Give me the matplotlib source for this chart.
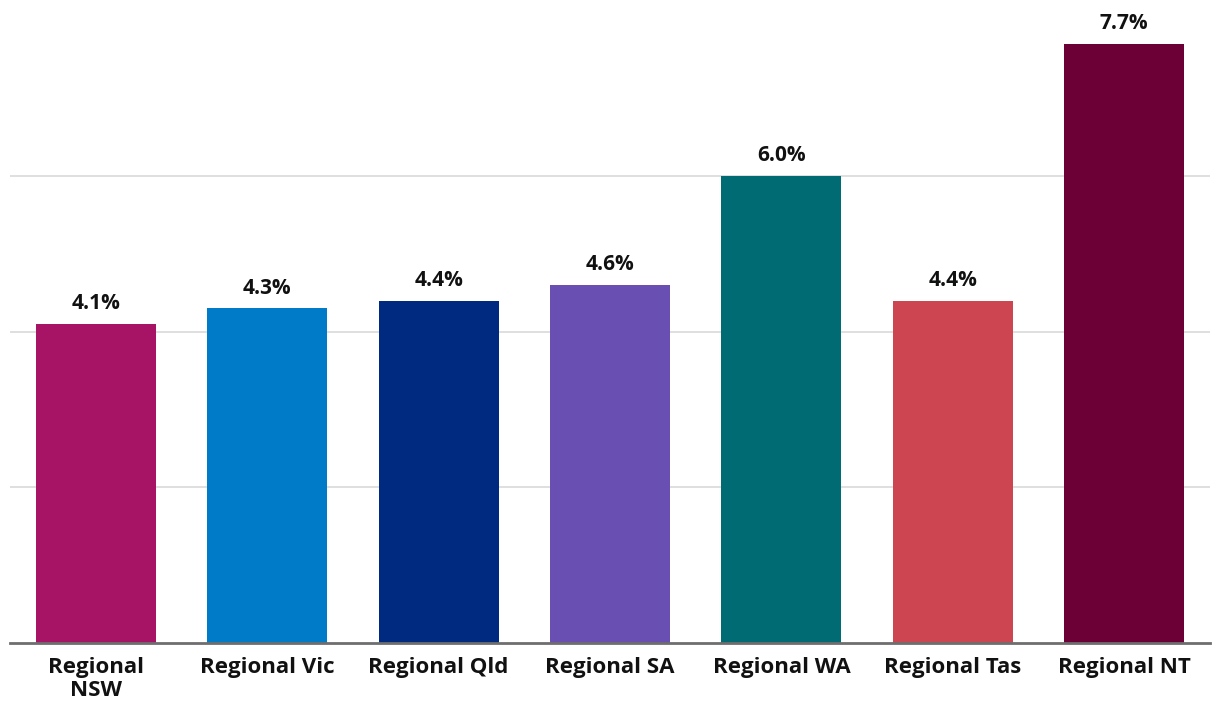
import matplotlib
matplotlib.use("Agg")
import matplotlib.pyplot as plt

# values
regions = ["Regional\nNSW", "Regional Vic", "Regional Qld", "Regional SA",
           "Regional WA", "Regional Tas", "Regional NT"]
rates = [4.1, 4.3, 4.4, 4.6, 6.0, 4.4, 7.7]
colours = ["#A71465", "#007BC7", "#002A7F", "#6A4FB2",
           "#006B73", "#CE4552", "#6C0036"]
grid_ticks = [2, 4, 6]

plt.rcParams["font.family"] = ["Open Sans", "DejaVu Sans"]

fig = plt.figure(figsize=(12.2, 7.18), dpi=100)
ax = fig.add_axes([10 / 1220, (718 - 643) / 718, 1200 / 1220, 643 / 718])

x = range(len(regions))
bars = ax.bar(x, rates, width=0.7, color=colours, zorder=2)

for bar, r in zip(bars, rates):
    ax.annotate(f"{r:.1f}%", (bar.get_x() + bar.get_width() / 2, bar.get_height()),
                xytext=(0, 7), textcoords="offset points",
                ha="center", va="bottom", fontsize=15, fontweight="bold",
                color="#111111")

ax.set_xlim(-0.5, len(regions) - 0.5)
ax.set_ylim(0, 643 / 77.8)
ax.set_yticks(grid_ticks)
ax.yaxis.grid(True, color="#D9D9D9", linewidth=1.2, zorder=0)
ax.tick_params(axis="y", length=0, labelleft=False)
ax.tick_params(axis="x", length=0, pad=10)
ax.set_xticks(list(x))
ax.set_xticklabels(regions, fontsize=16, fontweight="bold", color="#111111",
                   linespacing=1.15, va="top")

for s in ["top", "right", "left"]:
    ax.spines[s].set_visible(False)
ax.spines["bottom"].set_color("#6E6E6E")
ax.spines["bottom"].set_linewidth(2)
ax.set_axisbelow(True)

fig.savefig("out.png", dpi=100)
